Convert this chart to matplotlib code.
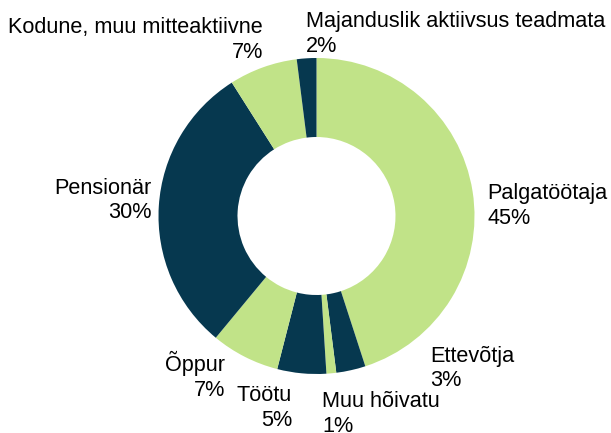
import matplotlib
matplotlib.use('Agg')
import matplotlib.pyplot as plt

# Jaotus: hõiveseisund (%)
categories = ['Palgatöötaja', 'Ettevõtja', 'Muu hõivatu', 'Töötu', 'Õppur',
              'Pensionär', 'Kodune, muu mitteaktiivne', 'Majanduslik aktiivsus teadmata']
shares = [45, 3, 1, 5, 7, 30, 7, 2]

GREEN = '#C1E388'
NAVY = '#06384F'
colors = [GREEN, NAVY, GREEN, NAVY, GREEN, NAVY, GREEN, NAVY]

W, H = 611, 433
plt.rcParams['font.family'] = ['Liberation Sans', 'DejaVu Sans']

fig = plt.figure(figsize=(W / 100, H / 100), dpi=100)
ax = fig.add_axes([0, 0, 1, 1])

# rõngasdiagramm: algab ülevalt, päripäeva
cx, cy, r = 316.5, H - 216, 158
ax.pie(shares, colors=colors, startangle=90, counterclock=False,
       center=(cx, cy), radius=r, wedgeprops=dict(width=r * 0.5, linewidth=0))

ax.set_xlim(0, W)
ax.set_ylim(0, H)
ax.set_aspect('equal')
ax.axis('off')

# siltide asukohad pikslites: (x, esimese rea alusjoon, joondus)
label_pos = [
    (487, 200, 'left'),
    (430, 363, 'left'),
    (322, 408, 'left'),
    (292, 402, 'right'),
    (225, 372, 'right'),
    (152, 195, 'right'),
    (263, 34, 'right'),
    (306, 28, 'left'),
]
line_step = 23.5  # teise rea alusjoone nihe

for name, val, (x, y, ha) in zip(categories, shares, label_pos):
    # va='baseline' joondab mitmerealise teksti viimase rea järgi
    ax.text(x, H - (y + line_step), f'{name}\n{val}%', ha=ha, va='baseline',
            multialignment=ha, fontsize=15.6, color='black')

fig.savefig('out.png', dpi=100)
